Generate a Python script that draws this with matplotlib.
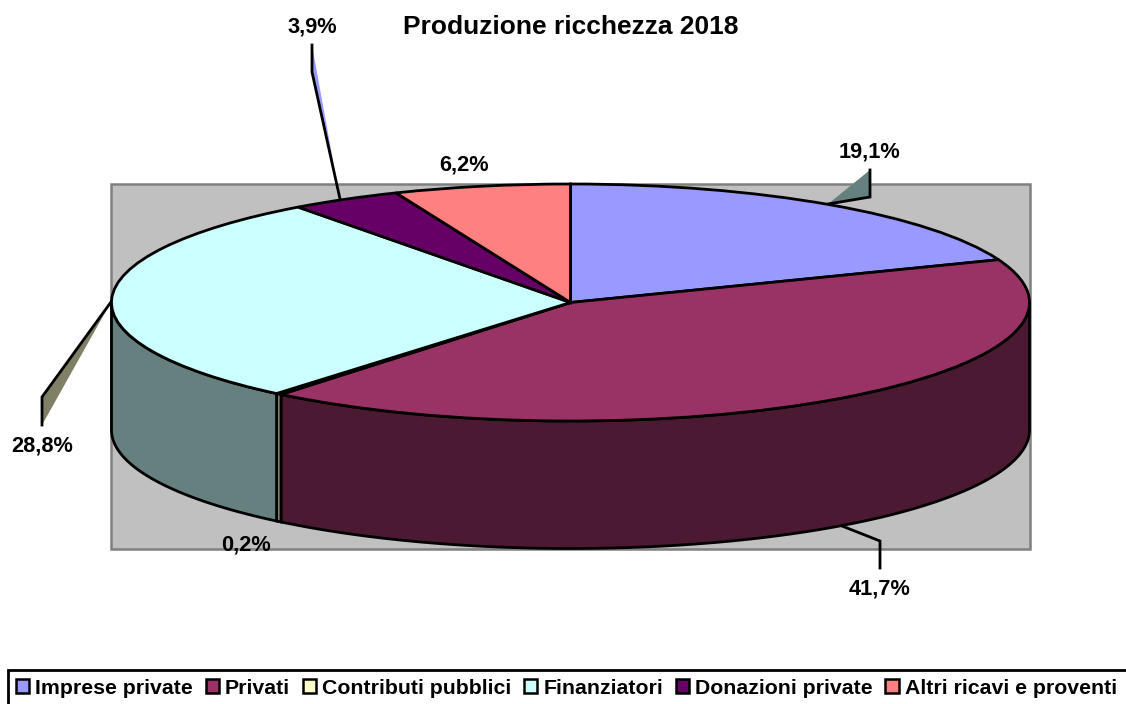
import numpy as np
import matplotlib
matplotlib.use("Agg")
import matplotlib.pyplot as plt
from matplotlib.patches import Rectangle, Polygon

plt.rcParams['font.family'] = ['Liberation Sans', 'DejaVu Sans']

# ------------------------------------------------------------------------------------------
# data
categories = ["Imprese private", "Privati", "Contributi pubblici", "Finanziatori",
              "Donazioni private", "Altri ricavi e proventi"]
values = [19.1, 41.7, 0.2, 28.8, 3.9, 6.2]
value_labels = ["19,1%", "41,7%", "0,2%", "28,8%", "3,9%", "6,2%"]
top_colors = ["#9999FF", "#993366", "#FFFFCC", "#CCFFFF", "#660066", "#FF8080"]
side_colors = ["#4C4C80", "#4C1933", "#808066", "#668080", "#330033", "#804040"]
title = "Produzione ricchezza 2018"

# ------------------------------------------------------------------------------------------
# layout, in pixels of the picture
W, H = 1126, 704
cx, cy, rx, ry, depth = 570.5, 302.5, 459, 118.5, 127.5
lw = 2.0

label_pos = [(870, 152), (880, 589), (246, 545), (42, 446), (312, 27), (464, 165)]

# leader lines, (points, shadow colour)
leaders = [
    ([(870, 170), (870, 197), (828, 204)], "#668080"),
    ([(842, 526), (880, 541), (880, 568)], None),
    ([(42, 425), (42, 397), (111, 302)], "#808066"),
    ([(312, 45), (312, 72), (340, 199)], "#9999FF"),
]

fig = plt.figure(figsize=(W / 100, H / 100), dpi=100, facecolor="white")

ax = fig.add_axes([0, 0, 1, 1])
ax.set_xlim(0, W)
ax.set_ylim(H, 0)
ax.axis("off")

# grey back wall
ax.add_patch(Rectangle((111, 184), 919, 365, facecolor="#C0C0C0", edgecolor="#808080", linewidth=1.8, zorder=1))

# side walls of the pie, angles are clockwise from 12 o'clock
fractions = np.array(values) / np.sum(values)
edges = np.concatenate([[0], np.cumsum(fractions)]) * 2 * np.pi
for ind in range(len(values)):
    start = max(edges[ind], np.pi / 2)
    stop = min(edges[ind + 1], 3 * np.pi / 2)
    if stop <= start:
        continue
    theta = np.linspace(start, stop, 200)
    xs = cx + rx * np.sin(theta)
    ys = cy - ry * np.cos(theta)
    pts = np.concatenate([np.column_stack([xs, ys]),
                          np.column_stack([xs, ys + depth])[::-1]])
    ax.add_patch(Polygon(pts, closed=True, facecolor=side_colors[ind], edgecolor="k", linewidth=lw, zorder=2))

# leader lines
for pts, shadow in leaders:
    pts = np.array(pts)
    if shadow is not None:
        ax.add_patch(Polygon(pts, closed=True, facecolor=shadow, edgecolor="none", zorder=3))
    ax.plot(pts[:, 0], pts[:, 1], color="k", linewidth=lw, solid_joinstyle="miter", zorder=3)

# top of the pie, a real pie squeezed in its own axes
ax_pie = fig.add_axes([(cx - rx) / W, 1 - (cy + ry) / H, 2 * rx / W, 2 * ry / H])
ax_pie.patch.set_visible(False)
ax_pie.pie(values, colors=top_colors, startangle=90, counterclock=False, radius=1.0,
           wedgeprops={"edgecolor": "k", "linewidth": lw, "clip_on": False})
ax_pie.set_aspect("auto")
ax_pie.set_xlim(-1, 1)
ax_pie.set_ylim(-1, 1)

# texts go on a last layer so they sit over everything
ax_txt = fig.add_axes([0, 0, 1, 1])
ax_txt.set_xlim(0, W)
ax_txt.set_ylim(H, 0)
ax_txt.axis("off")

ax_txt.text(570.5, 27, title, fontsize=19, fontweight="bold", ha="center", va="center")
for (lx, ly), txt in zip(label_pos, value_labels):
    ax_txt.text(lx, ly, txt, fontsize=15.7, fontweight="bold", ha="center", va="center")

# legend, the box runs off the picture on the right and at the bottom
ax_txt.add_patch(Rectangle((8, 670), 1130, 50, facecolor="white", edgecolor="k", linewidth=2.0, zorder=1))
handles = [Rectangle((0, 0), 1, 1, facecolor=c, edgecolor="k", linewidth=1.8) for c in top_colors]
leg = ax_txt.legend(handles, categories, ncol=6, frameon=False,
                    loc="center left", bbox_to_anchor=(16 / W, 1 - 688 / H),
                    borderaxespad=0, borderpad=0,
                    prop={"size": 15.35, "weight": "bold"},
                    handlelength=0.62, handleheight=0.62, handletextpad=0.28, columnspacing=0.6)
leg.set_zorder(5)

plt.savefig("out.png", dpi=100)
